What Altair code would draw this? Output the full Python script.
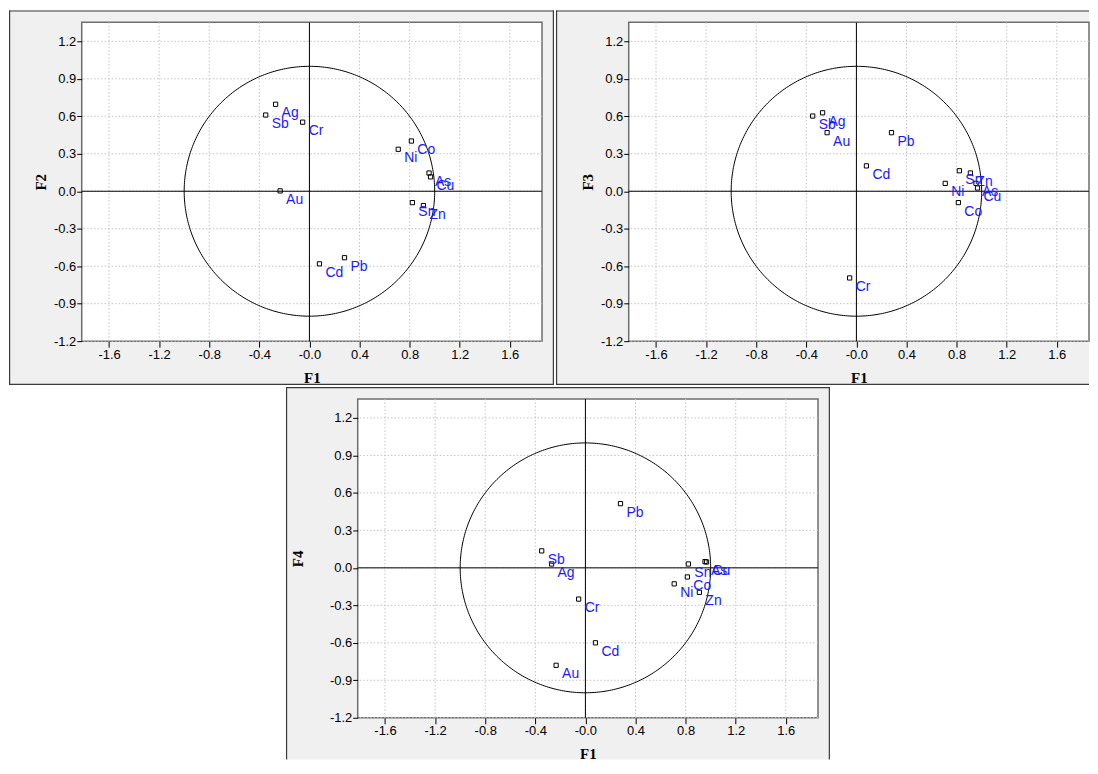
import numpy as np
import pandas as pd
import altair as alt

# ---- data ----
elements = ["Ag", "As", "Au", "Cd", "Co", "Cr", "Cu", "Ni", "Pb", "Sb", "Sn", "Zn"]
f1 = [-0.270, 0.955, -0.234, 0.080, 0.814, -0.054, 0.967, 0.709, 0.280, -0.349, 0.822, 0.910]
f2 = [0.696, 0.146, 0.003, -0.581, 0.402, 0.553, 0.115, 0.336, -0.532, 0.610, -0.091, -0.115]
f3 = [0.628, 0.063, 0.469, 0.203, -0.091, -0.694, 0.026, 0.063, 0.469, 0.602, 0.164, 0.146]
f4 = [0.031, 0.050, -0.780, -0.600, -0.073, -0.250, 0.047, -0.128, 0.514, 0.136, 0.031, -0.196]

x_ticks = [-1.6, -1.2, -0.8, -0.4, 0.0, 0.4, 0.8, 1.2, 1.6]
y_ticks = [-1.2, -0.9, -0.6, -0.3, 0.0, 0.3, 0.6, 0.9, 1.2]
x_domain = [-1.818, 1.857]
y_domain = [-1.2, 1.352]

W, H = 462, 320
BLUE = "#1a1aff"
FRAME_FILL = "#f0f0f0"
FRAME_LINE = "#3a3a3a"

theta = np.linspace(0, 2 * np.pi, 361)
circle_df = pd.DataFrame({"x": np.cos(theta), "y": np.sin(theta), "i": np.arange(361)})
one_row = pd.DataFrame({"k": [0]})
zero_df = pd.DataFrame({"x": [0.0], "y": [0.0]})
gx_df = pd.DataFrame({"x": x_ticks})
gy_df = pd.DataFrame({"y": y_ticks})

x_label_expr = ("datum.value == 0 ? '-0.0' : "
                "(datum.value < 0 ? '-' : '') + format(abs(datum.value), '.1f')")
y_label_expr = "(datum.value < 0 ? '-' : '') + format(abs(datum.value), '.1f')"


def vrule(x, y1, y2, w=1.2):
    return alt.Chart(one_row).mark_rule(color=FRAME_LINE, strokeWidth=w).encode(
        x=alt.value(x), y=alt.value(y1), y2=alt.value(y2))


def hrule(y, x1, x2, w=1.2):
    return alt.Chart(one_row).mark_rule(color=FRAME_LINE, strokeWidth=w).encode(
        y=alt.value(y), x=alt.value(x1), x2=alt.value(x2))


def panel(ycol, ytitle, ytitle_x, frame, sides):
    fl, fr, ft, fb = frame
    X = alt.X("x:Q",
              scale=alt.Scale(domain=x_domain, nice=False, zero=False),
              axis=alt.Axis(values=x_ticks, labelExpr=x_label_expr, title="F1",
                            grid=False, domain=False, tickSize=6, tickColor="black",
                            labelColor="black", labelFont="Liberation Sans",
                            labelFontSize=13, labelPadding=1, labelFlush=False,
                            labelOverlap=False,
                            titleFont="Liberation Serif", titleFontSize=15,
                            titleFontWeight="bold", titleColor="black",
                            titleX=W / 2, titleY=36, titleBaseline="middle",
                            zindex=1))
    Y = alt.Y("y:Q",
              scale=alt.Scale(domain=y_domain, nice=False, zero=False),
              axis=alt.Axis(values=y_ticks, labelExpr=y_label_expr, title=ytitle,
                            grid=False, domain=False, tickSize=5, tickColor="black",
                            labelColor="black", labelFont="Liberation Sans",
                            labelFontSize=13, labelPadding=1, labelFlush=False,
                            labelOverlap=False,
                            titleFont="Liberation Serif", titleFontSize=15,
                            titleFontWeight="bold", titleColor="black",
                            titleX=ytitle_x, titleY=H / 2, titleAngle=270,
                            titleBaseline="middle", zindex=1))

    pts = pd.DataFrame({"x": f1, "y": ycol, "name": elements})

    layers = [alt.Chart(one_row).mark_rect(fill=FRAME_FILL).encode(
        x=alt.value(fl), x2=alt.value(W + fr), y=alt.value(ft), y2=alt.value(H + fb))]
    if "top" in sides:
        layers.append(hrule(ft + 0.6, fl, W + fr))
    if "bottom" in sides:
        layers.append(hrule(H + fb - 0.6, fl, W + fr))
    if "left" in sides:
        layers.append(vrule(fl + 0.6, ft, H + fb))
    if "right" in sides:
        layers.append(vrule(W + fr - 0.6, ft, H + fb))
    layers += [
        alt.Chart(one_row).mark_rect(fill="white", stroke="#6e6e6e", strokeWidth=1.5).encode(
            x=alt.value(0), x2=alt.value(W), y=alt.value(0), y2=alt.value(H)),
        alt.Chart(gx_df).mark_rule(color="#c4c4c4", strokeDash=[1.5, 2], strokeWidth=1).encode(x=X),
        alt.Chart(gy_df).mark_rule(color="#c4c4c4", strokeDash=[1.5, 2], strokeWidth=1).encode(y=Y),
        alt.Chart(circle_df).mark_line(color="black", strokeWidth=1).encode(x=X, y=Y, order="i:Q"),
        alt.Chart(zero_df).mark_rule(color="black", strokeWidth=1).encode(x=X),
        alt.Chart(zero_df).mark_rule(color="black", strokeWidth=1).encode(y=Y),
        alt.Chart(pts).mark_square(size=18, filled=False, color="black", strokeWidth=1,
                                   opacity=1).encode(x=X, y=Y),
        alt.Chart(pts).mark_text(align="left", baseline="middle", dx=6, dy=9,
                                 fontSize=14, font="Liberation Sans", color=BLUE).encode(
            x=X, y=Y, text="name:N"),
    ]
    return alt.layer(*layers).properties(width=W, height=H)


p1 = panel(f2, "F2", -41, (-73, 12, -12, 44), ("top", "bottom", "left", "right"))
p2 = panel(f3, "F3", -41, (-73, 0, -12, 44), ("top", "bottom", "left"))
p3 = panel(f4, "F4", -60, (-72, 12, -12, 42), ("top", "left", "right"))

blank = alt.Chart(one_row).mark_point(opacity=0).encode(
    x=alt.value(0), y=alt.value(0)).properties(width=204, height=10)

top = alt.hconcat(p1, p2, spacing=0)
bottom = alt.hconcat(blank, p3, spacing=0)
chart = alt.vconcat(top, bottom, spacing=0).properties(
    padding=0, background="white"
).configure_view(strokeWidth=0)

chart.save("out.html", embed_options={"renderer": "svg", "actions": False})
